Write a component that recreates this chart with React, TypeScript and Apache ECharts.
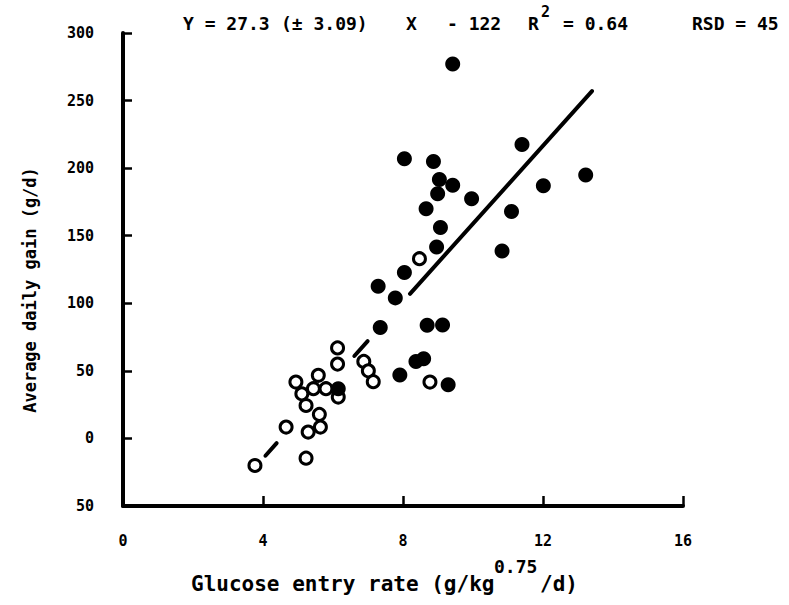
import React, { useEffect, useRef } from "react";
import * as echarts from "echarts";

// Tick labels as printed in the figure (bottom y tick printed as "50")
const xTickLabels = ["0", "4", "8", "12", "16"];
const yTickLabels = ["50", "0", "50", "100", "150", "200", "250", "300"];

// Filled circles (x: glucose entry rate, y: average daily gain)
const filledPoints: [number, number][] = [
  [9.42, 277], [8.04, 207], [8.87, 205], [11.4, 217.5], [9.04, 191.6],
  [9.42, 187.4], [8.99, 181], [9.96, 177.3], [13.22, 195], [12.01, 187],
  [8.66, 170], [11.1, 168], [9.07, 156], [8.96, 141.7], [10.83, 138.7],
  [8.04, 122.7], [7.29, 112.6], [7.78, 104], [7.35, 82], [8.69, 83.7],
  [9.13, 84], [8.37, 57], [8.59, 59], [7.91, 47], [9.29, 39.7], [6.15, 36.8],
];

// Open circles
const openPoints: [number, number][] = [
  [8.47, 133], [8.77, 41.7], [6.88, 57], [7.01, 50], [7.15, 42],
  [6.13, 67], [6.13, 55], [4.94, 41.7], [5.58, 46.7], [5.11, 33],
  [5.44, 36.8], [5.8, 36.8], [6.15, 30.6], [5.23, 24.4], [5.61, 17.8],
  [5.64, 8.4], [5.29, 4.7], [4.66, 8.4], [5.23, -14.6], [3.77, -20],
];

// Regression line pieces as drawn (two dashes + solid part)
const fitDash1: [number, number][] = [[4.07, -12.8], [4.39, -3.5]];
const fitDash2: [number, number][] = [[6.61, 61], [6.99, 72]];
const fitSolid: [number, number][] = [[8.2, 107], [13.4, 257]];

const MONO = '"DejaVu Sans Mono", monospace';

export default function App() {
  const ref = useRef<HTMLDivElement>(null);
  useEffect(() => {
    if (!ref.current) return;
    const chart = echarts.init(ref.current, undefined, { renderer: "svg" });
    const lineSeries = (data: [number, number][]) => ({
      type: "line",
      data,
      showSymbol: false,
      symbol: "none",
      lineStyle: { color: "#000", width: 4, cap: "round" },
      z: 1,
    });
    const txt = (text: string, x: number, y: number, size: number) => ({
      type: "text",
      x,
      y,
      style: {
        text,
        font: `bold ${size}px ${MONO}`,
        fill: "#000",
        textAlign: "left",
        textVerticalAlign: "middle",
      },
    });
    chart.setOption({
      animation: false,
      backgroundColor: "#fff",
      grid: { left: 123, right: 106, top: 33, bottom: 99 },
      xAxis: {
        type: "value",
        min: 0,
        max: 16,
        interval: 4,
        splitLine: { show: false },
        axisLine: { onZero: false, lineStyle: { color: "#000", width: 4 } },
        axisTick: { inside: true, length: 10, lineStyle: { color: "#000", width: 2.5 } },
        axisLabel: {
          margin: 27,
          color: "#000",
          fontFamily: MONO,
          fontWeight: "bold",
          fontSize: 15,
          formatter: (v: number) => xTickLabels[Math.round(v / 4)] ?? "",
        },
      },
      yAxis: {
        type: "value",
        min: -50,
        max: 300,
        interval: 50,
        splitLine: { show: false },
        axisLine: { lineStyle: { color: "#000", width: 4 } },
        axisTick: { inside: true, length: 9, lineStyle: { color: "#000", width: 2.5 } },
        axisLabel: {
          margin: 29,
          color: "#000",
          fontFamily: MONO,
          fontWeight: "bold",
          fontSize: 15,
          formatter: (v: number) => yTickLabels[Math.round((v + 50) / 50)] ?? "",
        },
      },
      series: [
        lineSeries(fitDash1),
        lineSeries(fitDash2),
        lineSeries(fitSolid),
        {
          type: "scatter",
          data: openPoints,
          symbol: "circle",
          symbolSize: 12,
          itemStyle: { color: "#fff", borderColor: "#000", borderWidth: 3, opacity: 1 },
          z: 3,
        },
        {
          type: "scatter",
          data: filledPoints,
          symbol: "circle",
          symbolSize: 15,
          itemStyle: { color: "#000", opacity: 1 },
          z: 4,
        },
      ],
      graphic: [
        txt("Y = 27.3", 183, 23, 18),
        txt("(± 3.09)", 281, 23, 18),
        txt("X", 406, 23, 18),
        txt("- 122", 447, 23, 18),
        txt("R", 528, 23, 18),
        txt("2", 541, 12, 15),
        txt("= 0.64", 563, 23, 18),
        txt("RSD = 45", 692, 23, 18),
        txt("Glucose entry rate (g/kg", 191, 584, 21),
        txt("0.75", 494, 566, 18),
        txt("/d)", 540, 584, 21),
        {
          type: "text",
          x: 30,
          y: 290,
          rotation: Math.PI / 2,
          style: {
            text: "Average daily gain (g/d)",
            font: `bold 17px ${MONO}`,
            fill: "#000",
            textAlign: "center",
            textVerticalAlign: "middle",
          },
        },
      ],
    });
    return () => chart.dispose();
  }, []);
  return (
    <div
      ref={ref}
      style={{ position: "fixed", left: 0, top: 0, width: 789, height: 605, background: "#fff" }}
    />
  );
}
